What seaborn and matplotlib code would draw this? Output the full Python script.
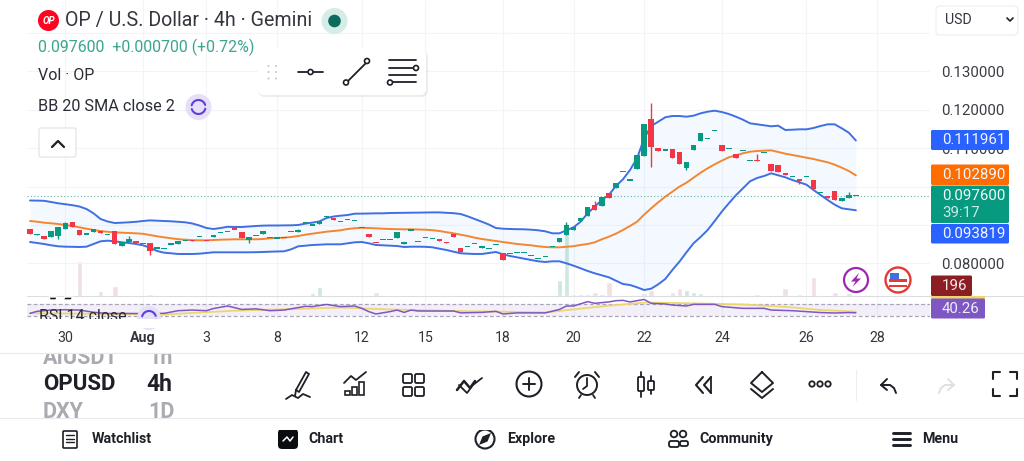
import numpy as np
import pandas as pd
import matplotlib
matplotlib.use("Agg")
import matplotlib.pyplot as plt
from matplotlib.patches import Circle, Rectangle, FancyBboxPatch, Polygon
import seaborn as sns

sns.set_theme(style="white")
plt.rcParams['font.family'] = ['Roboto', 'DejaVu Sans']

opens = [.0889,.0873,.0871,.0868,.0871,.0890,.0907,.0887,.0876,.0882,.0885,.0875,.0884,.0846,.0857,.0858,.0852,.0852,.0840,.0839,
 .0850,.0851,.0860,.0862,.0870,.0859,.0868,.0881,.0884,.0890,.0882,.0861,.0872,.0876,.0868,.0866,.0868,.0882,.0882,.0905,
 .0900,.0903,.0921,.0919,.0908,.0914,.0912,.0893,.0877,.0854,.0863,.0862,.0866,.0851,.0887,.0858,.0868,.0865,.0863,.0855,
 .0876,.0840,.0843,.0852,.0841,.0839,.0850,.0826,.0826,.0829,.0828,.0820,.0813,.0819,.0843,.0856,.0873,.0888,.0911,.0924,
 .0951,.0949,.0982,.0996,.1040,.1017,.1046,.1079,.1176,.1100,.1095,.1098,.1089,.1049,.1094,.1118,.1125,.1145,.1109,.1098,
 .1085,.1093,.1068,.1070,.1088,.1058,.1057,.1034,.1027,.1019,.1027,.1017,.0985,.0976,.0988,.0963,.0970,.0976]
closes = [.0876,.0877,.0863,.0884,.0894,.0904,.0895,.0875,.0877,.0889,.0879,.0875,.0851,.0855,.0863,.0853,.0852,.0833,.0840,.0839,
 .0851,.0857,.0860,.0858,.0870,.0858,.0874,.0881,.0884,.0889,.0866,.0869,.0872,.0884,.0868,.0866,.0868,.0882,.0887,.0905,
 .0900,.0910,.0921,.0914,.0908,.0914,.0912,.0893,.0868,.0853,.0863,.0862,.0881,.0856,.0887,.0858,.0868,.0865,.0858,.0854,
 .0868,.0830,.0843,.0852,.0845,.0839,.0850,.0810,.0826,.0829,.0828,.0820,.0813,.0819,.0843,.0865,.0899,.0895,.0918,.0947,
 .0939,.0973,.0971,.1008,.1040,.1017,.1081,.1163,.1102,.1092,.1095,.1074,.1058,.1064,.1108,.1140,.1125,.1145,.1092,.1098,
 .1074,.1093,.1068,.1067,.1088,.1040,.1038,.1029,.1027,.1014,.1027,.0993,.0985,.0969,.0965,.0970,.0979,.0976]
wick_high_idx = [5, 14, 38, 76, 80, 88, 103, 116]
wick_high_val = [.0908, .0871, .0890, .0907, .0962, .1216, .1084, .0986]
wick_low_idx = [4, 17, 31, 88, 93, 109]
wick_low_val = [.0863, .0821, .0854, .1050, .1043, .1007]

bb_upper = [.09636,.09633,.09628,.09597,.09563,.09540,.09514,.09480,.09415,.09303,.09155,.09090,.09051,.09059,.09069,.09082,.09103,.09119,.09111,.09103,
 .09095,.09082,.09069,.09038,.08986,.08921,.08895,.08921,.08952,.08947,.08947,.08960,.08973,.08983,.08986,.08986,.08989,.08991,.08999,.09035,
 .09061,.09093,.09181,.09220,.09241,.09259,.09293,.09295,.09298,.09303,.09303,.09311,.09314,.09316,.09319,.09321,.09324,.09327,.09327,.09316,
 .09306,.09285,.09225,.09155,.09085,.09012,.08921,.08903,.08895,.08890,.08887,.08877,.08861,.08835,.08783,.08783,.08861,.08939,.09085,.09303,
 .09475,.09649,.09779,.10013,.10187,.10429,.10733,.11253,.11573,.11685,.11799,.11833,.11833,.11815,.11841,.11903,.11945,.11971,.11937,.11885,
 .11815,.11737,.11643,.11617,.11591,.11565,.11581,.11469,.11477,.11487,.11487,.11521,.11573,.11617,.11617,.11513,.11399,.11196]
bb_basis = [.09103,.09085,.09059,.09043,.09025,.08999,.08973,.08939,.08903,.08869,.08843,.08822,.08809,.08799,.08791,.08783,.08770,.08739,.08705,.08679,
 .08653,.08630,.08617,.08604,.08601,.08601,.08609,.08617,.08622,.08627,.08627,.08627,.08627,.08635,.08653,.08661,.08669,.08687,.08713,.08747,
 .08773,.08799,.08825,.08843,.08861,.08895,.08916,.08926,.08921,.08913,.08903,.08895,.08890,.08887,.08887,.08882,.08877,.08864,.08843,.08812,
 .08783,.08747,.08713,.08669,.08635,.08609,.08583,.08557,.08531,.08505,.08487,.08471,.08445,.08427,.08419,.08419,.08432,.08448,.08479,.08505,
 .08549,.08627,.08695,.08773,.08869,.08973,.09085,.09267,.09433,.09589,.09735,.09865,.09995,.10099,.10229,.10359,.10473,.10577,.10671,.10759,
 .10811,.10863,.10905,.10923,.10931,.10941,.10897,.10853,.10819,.10785,.10749,.10715,.10671,.10629,.10567,.10489,.10403,.10289]
bb_lower = [.08557,.08531,.08505,.08471,.08445,.08435,.08432,.08427,.08435,.08505,.08575,.08591,.08575,.08549,.08531,.08505,.08471,.08409,.08323,.08279,
 .08263,.08245,.08245,.08245,.08253,.08271,.08289,.08289,.08289,.08289,.08289,.08289,.08292,.08297,.08305,.08310,.08315,.08367,.08445,.08461,
 .08479,.08487,.08497,.08497,.08497,.08523,.08549,.08557,.08523,.08479,.08471,.08461,.08453,.08427,.08435,.08435,.08432,.08419,.08383,.08349,
 .08305,.08263,.08253,.08245,.08245,.08271,.08297,.08237,.08193,.08159,.08123,.08089,.08055,.08037,.08055,.08055,.08003,.07941,.07873,.07803,
 .07743,.07691,.07639,.07551,.07465,.07439,.07379,.07309,.07343,.07457,.07595,.07829,.08045,.08289,.08523,.08687,.08869,.09103,.09345,.09563,
 .09771,.09953,.10135,.10221,.10273,.10343,.10291,.10239,.10169,.10109,.10047,.09909,.09779,.09649,.09527,.09433,.09407,.09382]
volume = [100,100,100,200,200,100,100,7000,300,300,1000,200,2000,100,300,200,100,400,100,100,
 100,100,100,100,100,100,100,100,100,100,100,100,100,100,100,100,100,100,100,200,
 600,1800,200,100,100,100,100,100,100,900,100,100,100,100,100,100,100,100,100,300,
 300,300,100,100,200,200,200,100,100,100,100,100,100,100,200,3200,14600,400,400,400,
 800,400,2800,100,300,200,300,600,1200,300,200,800,1600,1200,800,700,100,200,100,100,
 100,200,200,500,100,100,100,1600,100,500,100,3800,200,100,800,100,600,196]
rsi_idx = [0,1,3,5,7,9,11,14,17,19,21,23,25,26,28,30,32,34,36,39,40,42,44,46,47,48,49,51,52,53,54,55,60,61,64,66,67,69,73,75,
 76,77,79,80,82,83,84,85,86,87,88,90,91,93,94,96,97,98,101,104,105,108,110,112,114,116,117]
rsi_val = [38.5,45,49,50,49,42,38,38,38,38.5,47,49,47,54,62,51,53,47,49,61,60,67,60,62,54.5,44,36.5,44,49,41.5,49,46,46,40,41.5,45,36.5,40,40,51,
 62,62,76,70.6,75,79,80,75,79,83,70.6,68.4,65,62,67.3,67.3,67.3,60,54.5,54.5,49,47,44,41,39.6,41,40.26]
rsi_ma_idx = [0,10,19,29,44,51,60,73,74,82,86,87,89,101,108,112,117]
rsi_ma_val = [39,37,35,47,57,51,46,41.5,44,63,71,72.7,72.7,67,57.7,49,44]
tick_pos = [5,16,25,35,47,56,67,77,87,98,110,120]
tick_text = ['30','Aug','3','8','12','15','18','20','22','24','26','28']
price_ticks = [.13,.12,.11,.10,.09,.08]
price_tick_text = ['0.130000','0.120000','0.110000','','','0.080000']

GREEN, RED = '#089981', '#f23645'
BLUE, ORANGE = '#3f6fe3', '#f5862e'
n = len(closes)
idx = np.arange(n)
op, cl = np.array(opens), np.array(closes)
hi, lo = np.maximum(op, cl), np.minimum(op, cl)
hi[wick_high_idx] = wick_high_val
lo[wick_low_idx] = wick_low_val
up = cl >= op
df = pd.DataFrame(dict(i=idx, upper=bb_upper, basis=bb_basis, lower=bb_lower, vol=volume,
                       dir=np.where(up, 'up', 'down')))

W, H = 1024, 461
fig = plt.figure(figsize=(W/100, H/100), dpi=100, facecolor='white')
def axpx(l, t, r, b, **kw):
    return fig.add_axes([l/W, 1-b/H, (r-l)/W, (b-t)/H], **kw)

XLIM = (-0.425, 127.5)
PX = 0.00026

# volume pane (lowest)
av = axpx(27, 0, 930, 296)
sns.barplot(data=df, x='i', y='vol', hue='dir', palette={'up': '#cfe7dc', 'down': '#efe0e1'},
            dodge=False, native_scale=True, legend=False, width=0.8, saturation=1, ax=av)
av.set_xlim(*XLIM); av.set_ylim(0, 296*200)
av.set_xlabel(''); av.set_ylabel(''); av.set_xticks([]); av.set_yticks([])
sns.despine(ax=av, left=True, bottom=True, right=True, top=True)
av.patch.set_visible(False)
av.set_zorder(1)

# price pane
ax = axpx(27, 0, 930, 296)
ax.set_zorder(2); ax.patch.set_visible(False)
ax.set_xlim(*XLIM)
ax.set_ylim(0.1-109.5*PX, 0.1+186.5*PX)
ax.vlines(tick_pos, ax.get_ylim()[0], ax.get_ylim()[1], color='#f3f4f6', lw=0.8, zorder=0)
ax.hlines(price_ticks+[.14], *XLIM, color='#f3f4f6', lw=0.8, zorder=0)
ax.fill_between(idx, bb_lower, bb_upper, color='#2196f3', alpha=0.05, lw=0, zorder=1)
ax.axhline(closes[-1], color='#5fb8a6', lw=0.8, ls=(0, (1, 2)), zorder=1)
for col, c in (('upper', BLUE), ('lower', BLUE), ('basis', ORANGE)):
    sns.lineplot(data=df, x='i', y=col, color=c, lw=1.4, errorbar=None, estimator=None, ax=ax, zorder=2)
colors = np.where(up, GREEN, RED)
ax.vlines(idx, lo, hi, colors=colors, lw=1.0, zorder=3.5)
body = np.maximum(np.abs(op-cl), 1.1*PX)
mid = (op+cl)/2
ax.bar(idx, body, bottom=mid-body/2, width=0.78, color=colors, lw=0, zorder=4)
ax.set_xlabel(''); ax.set_ylabel('')
ax.set_xticks([])
ax.yaxis.tick_right()
ax.set_yticks(price_ticks)
ax.set_yticklabels(price_tick_text)
ax.tick_params(axis='y', length=0, pad=8, labelsize=10.8, labelcolor='#3a3d45')
sns.despine(ax=ax, left=True, bottom=True, right=True, top=True)

# RSI pane
ar = axpx(27, 296, 930, 318.5)
ar.set_zorder(2); ar.set_xlim(*XLIM)
ar.set_ylim(70-(318.5-303.5)*3.2, 70+(303.5-296)*3.2)
ar.axhspan(30, 70, color='#7e57c2', alpha=0.09, lw=0)
for v in (70, 30):
    ar.axhline(v, color='#a9a4b8', lw=0.9, ls=(0, (3, 2)))
ar.vlines(tick_pos, *ar.get_ylim(), color='#f3f4f6', lw=0.8, zorder=0)
sns.lineplot(x=rsi_ma_idx, y=rsi_ma_val, color='#ecd76f', lw=1.3, errorbar=None, estimator=None, ax=ar)
sns.lineplot(x=rsi_idx, y=rsi_val, color='#7e57c2', lw=1.1, errorbar=None, estimator=None, ax=ar)
ar.set_yticks([])
ar.set_xticks(tick_pos)
ar.set_xticklabels(tick_text)
ar.tick_params(axis='x', length=0, pad=9, labelsize=10.2, labelcolor='#33363e')
for t in ar.get_xticklabels():
    if t.get_text() == 'Aug':
        t.set_fontweight('bold')
sns.despine(ax=ar, left=True, bottom=True, right=True, top=True)
ar.patch.set_visible(False)

# interface chrome, in pixel coordinates
ui = fig.add_axes([0, 0, 1, 1], zorder=5)
ui.set_xlim(0, W); ui.set_ylim(H, 0); ui.axis('off'); ui.patch.set_visible(False)
INK = '#1e2027'
def L(xs, ys, lw=1.3, c=INK, z=6, **kw):
    ui.plot(xs, ys, color=c, lw=lw, solid_capstyle='round', zorder=z, **kw)
def C(x, y, r, ec='none', fc='none', lw=1.2, z=6):
    ui.add_patch(Circle((x, y), r, ec=ec, fc=fc, lw=lw, zorder=z))
def R(x0, y0, x1, y1, fc, ec='none', lw=1, z=6):
    ui.add_patch(Rectangle((x0, y0), x1-x0, y1-y0, fc=fc, ec=ec, lw=lw, zorder=z))
def RR(x0, y0, x1, y1, rad, fc='white', ec='none', lw=1, z=6, alpha=1):
    ui.add_patch(FancyBboxPatch((x0+rad, y0+rad), x1-x0-2*rad, y1-y0-2*rad,
                 boxstyle=f'round,pad={rad},rounding_size={rad}', fc=fc, ec=ec, lw=lw, zorder=z, alpha=alpha))
def T(x, y, s, size=10.8, c='#2a2d35', ha='left', w='normal', z=7, **kw):
    ui.text(x, y, s, fontsize=size, color=c, ha=ha, va='center', fontweight=w, zorder=z, **kw)

# header
C(48.5, 20.5, 10.5, fc='#ff0420')
T(48.5, 20.5, 'OP', size=7, c='white', ha='center', w='bold', style='italic')
T(65, 20.5, 'OP / U.S. Dollar · 4h · Gemini', size=14.1, c='#33363e')
C(334.5, 21, 13, fc='#d6ece7'); C(334.5, 21, 6.3, fc='#0d6b5b', z=7)
T(37.5, 47.5, '0.097600  +0.000700 (+0.72%)', size=11.4, c='#3aa58f')
T(38, 75, 'Vol · OP', size=11.5)
T(38, 106.5, 'BB 20 SMA close 2', size=11.7)
def sync_icon(x, y, r=13):
    C(x, y, r, fc='#e6dff5')
    th = np.linspace(0.3, 2.9, 30)
    L(x+7*np.cos(th), y-7*np.sin(th), lw=1.5, c='#5b3fe0', z=7)
    L(x-7*np.cos(th), y+7*np.sin(th), lw=1.5, c='#5b3fe0', z=7)
sync_icon(198.5, 107)
RR(39, 128, 76, 157, 2, fc='white', ec='#e3e4e8', lw=0.9)
L([52, 58, 64], [147, 141, 147], lw=1.6, c=INK, z=7)

# floating drawing toolbar
RR(258, 50, 428, 97, 7, fc='#000000', alpha=0.07, z=5.5)
RR(258, 48, 426, 95, 6, fc='white', z=6)
for yy in (66, 72, 78.5):
    for xx in (268.5, 276):
        C(xx, yy, 1, fc='#c4c6cc', z=7)
L([298, 323], [72, 72], z=7); C(310.5, 72, 2.5, ec=INK, fc='white', z=8)
L([346, 367], [83, 62], z=7); C(346, 82.5, 2.5, ec=INK, fc='white', z=8); C(367, 61, 2.5, ec=INK, fc='white', z=8)
for yy, a, b in ((60.5, 389, 416), (68, 389, 413), (75, 389, 416), (82, 393, 416)):
    L([a, b], [yy, yy], z=7)
C(416, 68, 2.5, ec=INK, fc='white', z=8); C(390, 82.5, 2.5, ec=INK, fc='white', z=8)

# currency selector
RR(936, 6, 1018, 35, 4, fc='white', ec='#f0f0f3', lw=0.9)
T(945, 19.5, 'USD', size=10.2, c='#33363e')
L([1007, 1010, 1013], [18, 21, 18], lw=1.2, c=INK, z=7)

# scale badges
for x1, y0, y1, c, s in ((1009, 130, 150, '#2962ff', '0.111961'), (1009, 164.5, 185, '#ff6d00', '0.102890'),
                         (1009, 224, 243.5, '#2962ff', '0.093819')):
    RR(931, y0, x1, y1, 1.5, fc=c, z=6)
    T(942, (y0+y1)/2+0.3, s, c='#f4f6ff', size=10.8, z=7)
RR(931, 185.5, 1009, 223, 1.5, fc=GREEN, z=6.2)
T(942, 196, '0.097600', c='#f0fbf8', size=10.8)
T(942, 213, '39:17', c='#c7ece3', size=10.8)
RR(931, 275.5, 972, 296, 1.5, fc='#8b1e22')
T(942, 286, '196', c='#f7eaea', size=10.8)
R(931, 296, 985, 298.5, '#ecd76f', z=5.8)
RR(931, 298.5, 985, 318.5, 1.5, fc='#7e57c2')
T(942, 309, '40.26', c='#f1ecfb', size=10.8)

# event markers
C(856, 280, 12, ec='#9c27b0', fc='white', lw=1.6)
ui.add_patch(Polygon([[859, 273], [851, 281.5], [855.5, 281.5], [852.5, 287], [861, 278.5], [856.5, 278.5]],
                     fc='#9c27b0', ec='none', zorder=7))
C(898, 280, 12.5, ec='#e53935', fc='white', lw=1.7)
for yy in (279, 284.5):
    R(889, yy, 907, yy+2.8, '#e53935', z=7)
R(890, 272.5, 899, 279, '#3f6fe3', z=7)

# divider between price pane and RSI pane, cut-off marks, RSI caption
R(985, 296, 1024, 330, 'white', z=5)
L([27, 1024], [296.2, 296.2], lw=0.8, c='#dcdde1', z=5.5)
ui.add_patch(Polygon([[49, 297], [57, 297], [56, 300], [50, 300]], fc='#111111', zorder=6))
ui.add_patch(Polygon([[65, 297], [73, 297], [71, 300], [63, 300]], fc='#111111', zorder=6))
T(39, 316, 'RSI 14 close', size=11.5, z=6)
sync_icon(149, 318, r=12)
R(0, 318.6, 930, 328, 'white', z=7.5)

# symbol wheel and toolbar
T(43, 358, 'AIUSDT', size=15.5, c='#a9abb1', w='bold', z=6)
T(148, 358, '1h', size=15.5, c='#a9abb1', w='bold', z=6)
R(0, 344.5, 600, 352.5, 'white', z=6.2)
L([0, W], [352.5, 352.5], lw=0.9, c='#e9eaee', z=6.3)
T(43, 384, 'OPUSD', size=16, c=INK, w='bold')
T(146, 384, '4h', size=16.5, c=INK, w='bold')
T(43, 412, 'DXY', size=15.5, c='#a9abb1', w='bold', z=6)
T(148, 412, '1D', size=15.5, c='#a9abb1', w='bold', z=6)
R(0, 418, 600, 430, 'white', z=6.2)
L([0, W], [417.5, 417.5], lw=0.9, c='#e9eaee', z=6.3)

# pencil
L([296, 306, 309, 299, 296], [390, 372, 374, 392, 390], lw=1.3)
L([296, 295], [390, 396], lw=1.3)
L([286, 292, 298, 303, 310], [399, 395, 398, 394, 397], lw=1.3)
# chart
for xx, t in ((347, 391), (354, 387), (361, 382)):
    ui.add_patch(Rectangle((xx-2.5, t), 5, 395-t, fc='white', ec=INK, lw=1.2, zorder=6))
L([344, 351, 356, 366], [383, 376, 380, 372], lw=1.3)
# grid
for xx in (403, 415):
    for yy in (374, 387):
        RR(xx, yy, xx+9, yy+9, 1.5, fc='white', ec=INK, lw=1.3)
# patterns
L([457, 464, 470, 475], [390, 381, 388, 381], lw=1.8)
L([459, 467, 473, 482], [385, 393, 385, 378], lw=1.3)
# add
C(529, 384, 12.5, ec=INK, lw=1.5)
L([529, 529], [378, 390], lw=1.4); L([523, 535], [384, 384], lw=1.4)
# alarm
C(587, 385, 10, ec=INK, lw=1.4)
L([587, 587, 583], [378, 386, 389], lw=1.3)
L([575, 579], [377, 372], lw=1.4); L([599, 595], [377, 372], lw=1.4)
L([581, 579], [395, 398], lw=1.3); L([593, 595], [395, 398], lw=1.3)
# candles
L([641, 641], [372, 397], lw=1.3); L([651, 651], [376, 394], lw=1.3)
RR(638, 377, 644, 391, 1, fc='white', ec=INK, lw=1.3)
RR(648, 381, 654, 390, 1, fc='white', ec=INK, lw=1.3)
# rewind
L([703, 696, 703], [377, 385, 393], lw=1.5); L([711, 704, 711], [377, 385, 393], lw=1.5); L([711, 711], [377, 393], lw=1.3)
# layers
L([762, 751, 762, 773, 762], [372, 383, 392, 383, 372], lw=1.4)
L([751, 762, 773], [389, 398, 389], lw=1.4)
# more
for xx in (812, 820, 828):
    C(xx, 384, 2.7, ec=INK, lw=1.3)
L([855.5, 855.5], [370, 400], lw=0.8, c='#eceded')
# undo / redo
L([887, 881, 887], [379, 385, 390], lw=1.4)
L([881, 890, 894, 896], [385, 385, 388, 393], lw=1.4)
L([948, 954, 948], [379, 385, 390], lw=1.4, c='#dfe0e4')
L([954, 945, 941, 939], [385, 385, 388, 393], lw=1.4, c='#dfe0e4')
# fullscreen
for sx, sy in ((-1, -1), (1, -1), (-1, 1), (1, 1)):
    cx, cy = 1005+sx*12, 384+sy*12
    L([cx-sx*7, cx, cx], [cy, cy, cy-sy*7], lw=1.5)

# bottom navigation
T(92, 439, 'Watchlist', size=10.3, c=INK, w='bold')
RR(63, 431, 77, 448, 1, fc='white', ec=INK, lw=1.2)
for yy in (435, 438.5, 442):
    L([66, 74], [yy, yy], lw=1)
RR(278, 429, 298, 449, 4, fc='#0b0c10')
L([283, 287, 290, 293], [441, 437, 441, 437], lw=1.1, c='white', z=7)
T(308, 439, 'Chart', size=10.3, c=INK, w='bold')
C(485, 439, 9.5, ec=INK, lw=1.5)
ui.add_patch(Polygon([[491, 433], [487.5, 441.5], [479, 445], [482.5, 436.5]], fc=INK, ec='none', zorder=7))
T(507, 439, 'Explore', size=10.3, c=INK, w='bold')
C(674, 434, 3.3, ec=INK, lw=1.3); C(683, 434, 3.3, ec=INK, lw=1.3)
RR(669, 441, 679, 447, 2, fc='white', ec=INK, lw=1.3); RR(680, 441, 688, 446, 2, fc='white', ec=INK, lw=1.3)
T(699, 439, 'Community', size=10.3, c=INK, w='bold')
for yy in (433, 439, 445):
    L([893, 910], [yy, yy], lw=2.1)
T(922, 439, 'Menu', size=10.3, c=INK, w='bold')

fig.savefig('out.png', dpi=100, facecolor='white')
